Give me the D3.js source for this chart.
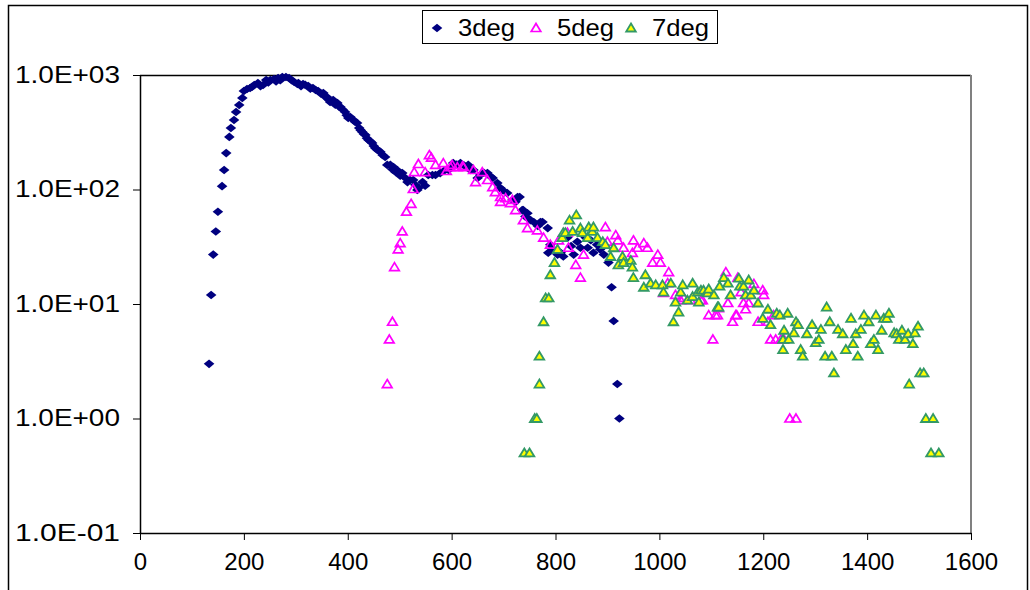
<!DOCTYPE html>
<html>
<head>
<meta charset="utf-8">
<script src="https://cdnjs.cloudflare.com/ajax/libs/d3/7.8.5/d3.min.js"></script>
<style>
body { margin: 0; background: #fff; }
text { font-family: Arial, "Liberation Sans", sans-serif; }
</style>
</head>
<body>
<div id="chart"></div>
<script>
// series, [x, y]
var deg3 = [[133,3.0],[137,12],[141,27],[146,43],[150,64],[158,107],[162,148],[166,208],[172,288],[175,344],[181,405],[185,475],[191,547],[197,630],[200,725],[206,755],[212,770],[216,790],[220,818],[227,851],[232,800],[237,818],[243,904],[247,860],[251,904],[258,922],[262,880],[266,942],[270,900],[274,961],[281,961],[287,942],[292,900],[297,868],[303,834],[305,851],[310,800],[314,834],[318,820],[324,802],[328,760],[333,770],[338,740],[343,725],[348,690],[353,697],[356,650],[360,643],[363,610],[366,581],[372,605],[376,550],[380,569],[383,530],[386,526],[390,500],[395,475],[398,445],[401,421],[405,430],[411,405],[414,390],[418,381],[422,345],[425,330],[428,318],[431,305],[434,299],[437,280],[440,271],[444,262],[447,255],[450,240],[453,230],[457,222],[463,213],[467,200],[472,192],[476,164],[482,164],[486,150],[488,157],[492,142],[495,148],[501,132],[505,139],[511,126],[515,116],[520,121],[526,121],[530,110],[534,99],[536,103],[544,116],[549,108],[555,134],[563,134],[569,134],[578,139],[585,145],[594,148],[601,157],[603,170],[610,165],[617,170],[624,162],[632,164],[636,148],[642,148],[650,126],[655,134],[662,140],[669,139],[675,130],[679,126],[688,114],[694,103],[698,99],[707,93],[717,81],[723,78],[727,86],[731,86],[736,66],[738,66],[742,58],[746,62],[752,54],[758,52],[766,48],[771,52],[775,52],[785,46],[786,28],[790,33],[795,30],[804,27],[810,28],[815,26],[823,38],[830,32],[835,27],[842,35],[848,31],[858,38],[862,31],[868,36],[873,28],[880,33],[886,30],[893,27],[902,23],[908,14],[912,7.1],[919,2.0],[923,1.0]];

var deg5 = [[476,2.0],[480,4.9],[486,7.0],[490,21],[497,30],[501,34],[505,43],[513,64],[522,75],[526,101],[528,142],[536,167],[549,142],[557,200],[561,190],[569,164],[584,170],[590,145],[598,157],[601,164],[611,157],[621,160],[623,157],[642,148],[646,116],[659,142],[669,121],[679,105],[684,95],[694,86],[694,78],[704,84],[713,76],[717,81],[723,66],[738,54],[746,46],[765,44],[777,38],[790,33],[806,36],[823,42],[825,31],[839,22],[848,17],[854,27],[896,47],[900,35],[916,40],[920,36],[931,31],[948,28],[950,36],[958,31],[970,34],[977,31],[987,23],[997,27],[1002,23],[1008,12.5],[1016,15.2],[1018,19],[1031,12],[1041,10.8],[1047,11.3],[1060,10.8],[1080,10.8],[1083,10.8],[1095,8.0],[1103,4.9],[1108,8.0],[1112,8.0],[1114,9.2],[1128,19],[1132,10.2],[1141,7.0],[1147,8.0],[1149,8.0],[1151,17],[1157,12.7],[1162,10.2],[1166,9.0],[1172,10.2],[1182,15],[1190,7.0],[1199,13.2],[1201,12],[1209,7.0],[1214,4.9],[1220,8.0],[1224,4.9],[1234,4.9],[1240,4.9],[1251,1.0],[1263,1.0]];

var deg7 = [[740,0.5],[750,0.5],[760,1.0],[764,1.0],[769,2.0],[769,3.5],[777,7.0],[781,11.3],[787,11.3],[790,18],[798,23],[804,30],[813,38],[815,42],[819,42],[827,54],[833,43],[840,60],[848,46],[852,42],[862,38],[864,47],[871,43],[873,47],[881,38],[891,35],[896,33],[906,26],[912,31],[921,22],[929,26],[931,23],[945,24],[948,21],[950,17],[970,14],[973,18],[983,15.2],[993,14.7],[1006,14.7],[1008,12.7],[1022,15.2],[1027,7.0],[1031,10.4],[1037,8.5],[1041,12.7],[1045,14.7],[1054,10.8],[1064,11.6],[1064,15.2],[1074,12.7],[1076,10.4],[1080,13.2],[1085,13.2],[1093,12.5],[1095,13.5],[1105,12],[1112,9.4],[1114,9.4],[1116,14.3],[1124,17],[1132,15.2],[1137,12],[1153,16.8],[1155,14.3],[1162,14.3],[1166,12],[1172,16.2],[1176,12],[1182,13.2],[1190,10.2],[1199,7.5],[1209,9.0],[1214,6.6],[1226,8.3],[1232,8.0],[1238,4.9],[1238,4.0],[1240,5.9],[1247,8.3],[1249,4.9],[1259,5.6],[1263,7.0],[1267,6.6],[1272,4.0],[1276,3.5],[1284,5.5],[1294,6.6],[1301,4.6],[1307,4.9],[1311,6.0],[1319,3.5],[1322,9.4],[1328,7.0],[1332,3.5],[1336,2.5],[1344,6.0],[1353,5.5],[1359,4.0],[1369,7.5],[1373,4.5],[1378,5.5],[1382,3.5],[1388,6.0],[1394,8.0],[1403,7.0],[1407,4.5],[1413,4.9],[1417,8.0],[1421,4.0],[1428,5.9],[1432,7.5],[1438,7.5],[1442,8.3],[1452,5.6],[1457,5.5],[1461,4.9],[1467,5.9],[1473,4.9],[1479,5.5],[1481,2.0],[1488,4.5],[1492,5.6],[1498,6.4],[1502,2.5],[1509,2.5],[1513,1.0],[1523,0.5],[1527,1.0],[1538,0.5]];

var seriesNames = ["3deg", "5deg", "7deg"];
var xTicks = [0, 200, 400, 600, 800, 1000, 1200, 1400, 1600];
var yTicks = [0.1, 1, 10, 100, 1000];

var W = 1030, H = 590;
var pLeft = 140, pRight = 971, pTop = 75, pBottom = 533;

var svg = d3.select("#chart").append("svg")
	.attr("width", W)
	.attr("height", H);

// outer chart frame (bottom edge is cut off in the original)
svg.append("path")
	.attr("d", "M8.5,590V5.5H1027.5V590")
	.attr("fill", "none")
	.attr("stroke", "#000")
	.attr("stroke-width", 1.5);

var x = d3.scaleLinear().domain([0, 1600]).range([pLeft, pRight]);
var y = d3.scaleLog().domain([0.1, 1000]).range([pBottom, pTop]);

// plot area border: top black, right grey
svg.append("line")
	.attr("x1", pLeft).attr("x2", pRight)
	.attr("y1", pTop + 0.5).attr("y2", pTop + 0.5)
	.attr("stroke", "#000").attr("stroke-width", 1.5);
svg.append("line")
	.attr("x1", pRight).attr("x2", pRight)
	.attr("y1", pTop).attr("y2", pBottom)
	.attr("stroke", "#808080").attr("stroke-width", 2);

function sci(v) {
	var e = Math.round(Math.log10(v));
	var s = e < 0 ? "-" : "+";
	var a = Math.abs(e);
	return "1.0E" + s + (a < 10 ? "0" + a : a);
}

var yAxis = svg.append("g")
	.attr("transform", "translate(" + pLeft + ",0)")
	.call(d3.axisLeft(y).tickValues(yTicks).tickFormat(sci).tickSize(7).tickSizeOuter(0).tickPadding(13));
yAxis.selectAll("text")
	.attr("font-size", 23)
	.attr("fill", "#000")
	.attr("textLength", 105)
	.attr("lengthAdjust", "spacingAndGlyphs");

var xAxis = svg.append("g")
	.attr("transform", "translate(0," + pBottom + ")")
	.call(d3.axisBottom(x).tickValues(xTicks).tickFormat(d3.format("d")).tickSize(7).tickSizeOuter(0).tickPadding(13));
xAxis.selectAll("text")
	.attr("font-size", 24)
	.attr("fill", "#000");

svg.selectAll(".domain").attr("stroke", "#000").attr("stroke-width", 1.5);
svg.selectAll(".tick line").attr("stroke", "#000");

// marker shapes
var diamond = "M0,-4.3L5.3,0L0,4.3L-5.3,0Z";
var tri = "M0,-4.5L4.8,3.5L-4.8,3.5Z";

var styles = [
	{ d: diamond, fill: "#000080", stroke: "none", sw: 0 },
	{ d: tri, fill: "none", stroke: "#FF00FF", sw: 1.7 },
	{ d: tri, fill: "#FFFF00", stroke: "#339966", sw: 1.8 }
];

var plot = svg.append("g");
[deg3, deg5, deg7].forEach(function(data, i) {
	var st = styles[i];
	plot.append("g").selectAll("path")
		.data(data)
		.enter()
		.append("path")
		.attr("d", st.d)
		.attr("transform", function(d) {
			return "translate(" + x(d[0]) + "," + y(d[1]) + ")";
		})
		.attr("fill", st.fill)
		.attr("stroke", st.stroke)
		.attr("stroke-width", st.sw);
});

// legend
var lg = svg.append("g");
lg.append("rect")
	.attr("x", 422.5).attr("y", 10.5)
	.attr("width", 295).attr("height", 33)
	.attr("fill", "#fff")
	.attr("stroke", "#000");

var legX = [437, 536, 631];
seriesNames.forEach(function(name, i) {
	var st = styles[i];
	lg.append("path")
		.attr("d", st.d)
		.attr("transform", "translate(" + legX[i] + ",28)")
		.attr("fill", st.fill)
		.attr("stroke", st.stroke)
		.attr("stroke-width", st.sw);
	lg.append("text")
		.attr("x", legX[i] + 21)
		.attr("y", 36)
		.attr("font-size", 24)
		.attr("textLength", 57)
		.attr("lengthAdjust", "spacingAndGlyphs")
		.text(name);
});
</script>
</body>
</html>
